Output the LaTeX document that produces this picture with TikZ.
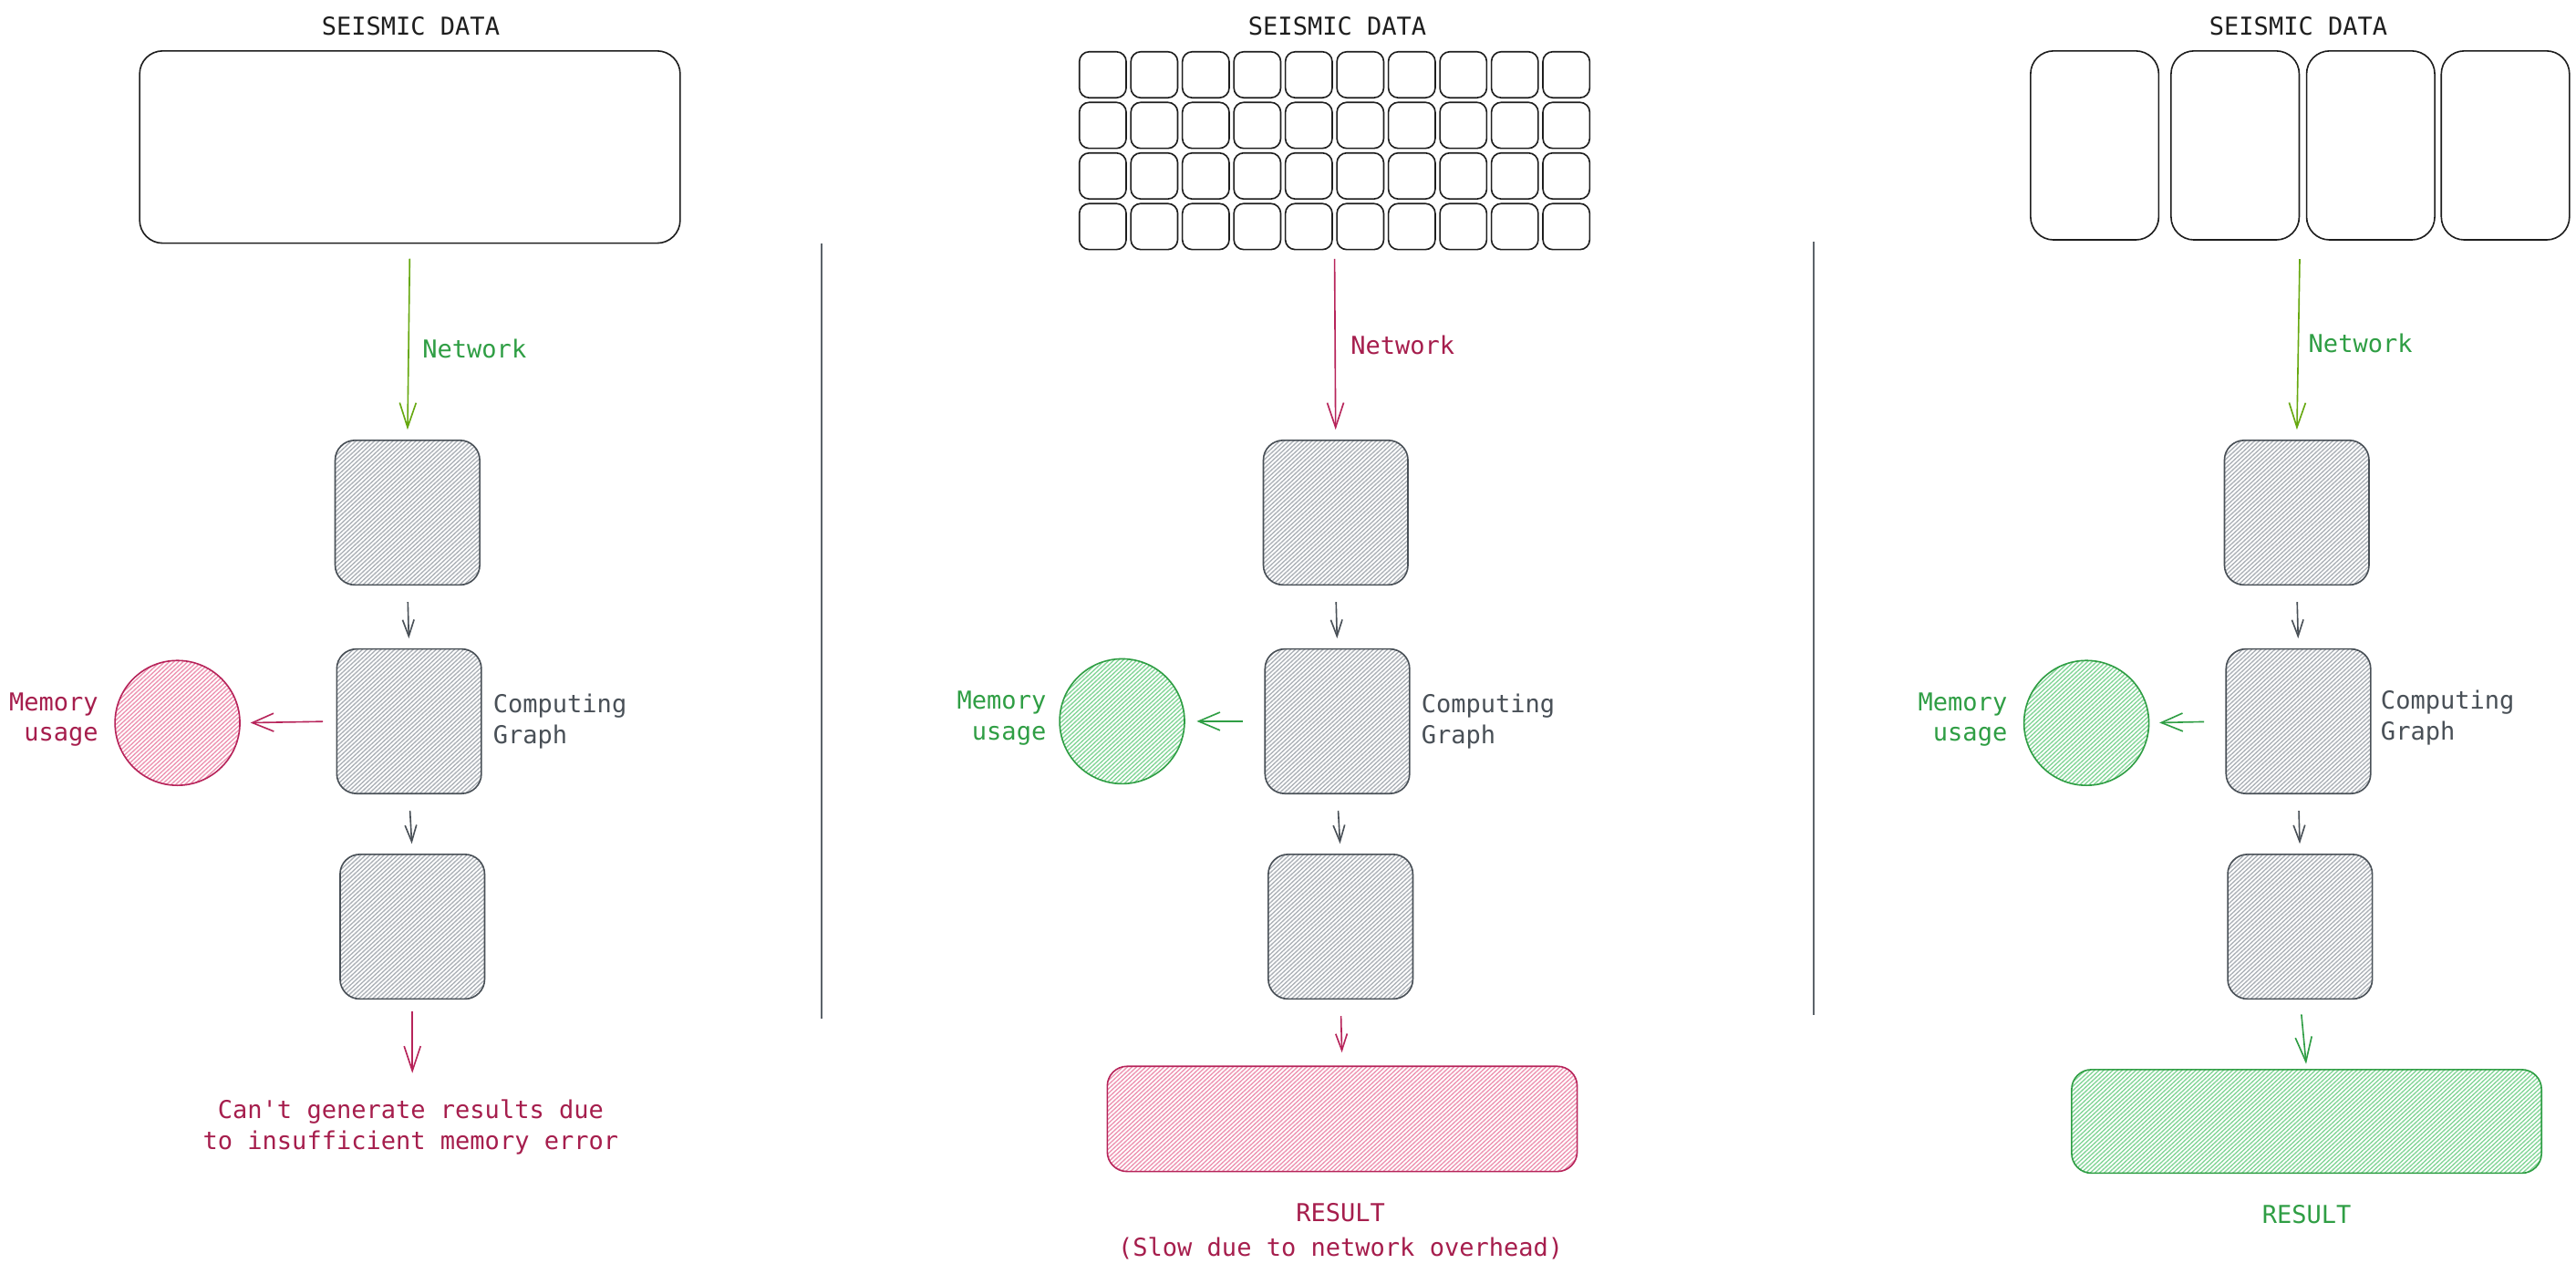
\documentclass[tikz,border=0pt]{standalone}
\usepackage{fontspec}
\setmonofont{DejaVu Sans Mono}
\usetikzlibrary{arrows.meta,fit,calc}
\definecolor{crim}{HTML}{A61E4D}
\definecolor{crimline}{HTML}{B7245A}
\definecolor{pinkh}{HTML}{EE94B2}
\definecolor{grn}{HTML}{2F9E44}
\definecolor{grnh}{HTML}{84D698}
\definecolor{olive}{HTML}{66A80F}
\definecolor{gstroke}{HTML}{495057}
\definecolor{ghatch}{HTML}{ADB2B8}
\definecolor{ink}{HTML}{1E1E1E}
\definecolor{divider}{HTML}{5C636A}
\tikzset{
  hatchfill/.style={path picture={
    \foreach \k in {-36,...,106}{
      \draw[#1, line width=0.75pt]
        ($(path picture bounding box.south west)+(\k*2.8pt,0pt)$) -- ++(43:150pt);
    }}},
  databox/.style={draw=ink, line width=0.9pt, rounded corners=#1, inner sep=0pt},
  graybox/.style={draw=gstroke, line width=0.9pt, rounded corners=12pt,
    minimum width=88pt, minimum height=88pt, inner sep=0pt, hatchfill=ghatch},
  memred/.style={circle, draw=crimline, line width=0.9pt, minimum size=76pt,
    inner sep=0pt, hatchfill=pinkh},
  memgreen/.style={circle, draw=grn, line width=0.9pt, minimum size=76pt,
    inner sep=0pt, hatchfill=grnh},
  resred/.style={draw=crimline, line width=0.9pt, rounded corners=12pt,
    minimum width=286pt, minimum height=64pt, inner sep=0pt, hatchfill=pinkh},
  resgreen/.style={draw=grn, line width=0.9pt, rounded corners=12pt,
    minimum width=286pt, minimum height=63pt, inner sep=0pt, hatchfill=grnh},
  txt/.style={inner sep=0pt, font=\ttfamily\fontsize{15}{18.75}\selectfont},
  bigarrow/.style={draw=#1, line width=0.9pt,
    -{Straight Barb[length=15pt,width=10pt,line width=0.9pt]}},
  smallarrow/.style={draw=#1, line width=0.9pt,
    -{Straight Barb[length=10pt,width=7pt,line width=0.9pt]}},
  memarrow/.style={draw=#1, line width=0.9pt,
    -{Straight Barb[length=13pt,width=11pt,line width=0.9pt]}},
}
\begin{document}
\begin{tikzpicture}[x=1pt,y=1pt]
\useasboundingbox (0,0) rectangle (1568,-775);
\fill[white] (0,0) rectangle (1568,-775);

% ---------------- dividers
\draw[divider, line width=0.9pt] (500,-148) -- (500,-620);
\draw[divider, line width=0.9pt] (1104,-147) -- (1104,-618);

% ================= Panel 1
\node[txt, text=ink] (t1) at (250,-16) {SEISMIC DATA};
\node[databox=14pt, minimum width=329pt, minimum height=117pt] (d1) at (249.5,-89.5) {};
\node[graybox] (a1) at (248,-312) {};
\node[graybox] (b1) at (249,-439) {};
\node[graybox] (c1) at (251,-564) {};
\node[memred] (m1) at (108,-440) {};
\node[txt, text=grn, anchor=west] (n1) at (257,-212) {Network};
\node[txt, text=gstroke, anchor=west, align=left] (g1) at (300,-439) {Computing\\Graph};
\node[txt, text=crim, anchor=east, align=right] (u1) at (60,-438) {Memory\\usage};
\node[txt, text=crim, align=center] (e1) at (250,-686) {Can't generate results due\\to insufficient memory error};

\draw[bigarrow=olive, shorten <=9pt, shorten >=6pt] (d1.south) -- (a1.north);
\draw[smallarrow=gstroke, shorten <=10pt, shorten >=6pt] (a1.south) -- (b1.north);
\draw[memarrow=crimline, shorten <=8pt, shorten >=6pt] (b1.west) -- (m1.east);
\draw[smallarrow=gstroke, shorten <=10pt, shorten >=6pt] (b1.south) -- (c1.north);
\draw[bigarrow=crimline, shorten <=7pt, shorten >=16pt] (c1.south) -- (e1.north -| c1.south);

% ================= Panel 2
\node[txt, text=ink] (t2) at (814,-16) {SEISMIC DATA};
\foreach \i in {0,...,9}{
  \foreach \j in {0,...,3}{
    \node[databox=6pt, minimum width=28.5pt, minimum height=28pt]
      (g2-\i-\j) at ({657+31.35*\i+14.25},{-(31.5+30.8*\j+14)}) {};
  }
}
\node[fit=(g2-0-0)(g2-9-3), inner sep=0pt] (d2) {};
\node[graybox] (a2) at (813,-312) {};
\node[graybox] (b2) at (814,-439) {};
\node[graybox] (c2) at (816,-564) {};
\node[memgreen] (m2) at (683,-439) {};
\node[resred] (r2) at (817,-681) {};
\node[txt, text=crim, anchor=west] (n2) at (822,-210) {Network};
\node[txt, text=gstroke, anchor=west, align=left] (gr2) at (865,-439) {Computing\\Graph};
\node[txt, text=grn, anchor=east, align=right] (u2) at (637,-437) {Memory\\usage};
\node[txt, text=crim] (rt2) at (816,-738) {RESULT};
\node[txt, text=crim] (sl2) at (816,-760) {(Slow due to network overhead)};

\draw[bigarrow=crimline, shorten <=5pt, shorten >=6pt] (d2.south) -- (a2.north);
\draw[smallarrow=gstroke, shorten <=10pt, shorten >=6pt] (a2.south) -- (b2.north);
\draw[memarrow=grn, shorten <=13pt, shorten >=7pt] (b2.west) -- (m2.east);
\draw[smallarrow=gstroke, shorten <=10pt, shorten >=6pt] (b2.south) -- (c2.north);
\draw[smallarrow=crimline, shorten <=10pt, shorten >=8pt] (c2.south) -- (r2.north);

% ================= Panel 3
\node[txt, text=ink] (t3) at (1399,-16) {SEISMIC DATA};
\node[databox=14pt, minimum width=78pt, minimum height=115pt] (p3a) at (1275,-88.5) {};
\node[databox=14pt, minimum width=78pt, minimum height=115pt] (p3b) at (1360.5,-88.5) {};
\node[databox=14pt, minimum width=78pt, minimum height=115pt] (p3c) at (1443,-88.5) {};
\node[databox=14pt, minimum width=78pt, minimum height=115pt] (p3d) at (1525,-88.5) {};
\node[fit=(p3a)(p3d), inner sep=0pt] (d3) {};
\node[graybox] (a3) at (1398,-312) {};
\node[graybox] (b3) at (1399,-439) {};
\node[graybox] (c3) at (1400,-564) {};
\node[memgreen] (m3) at (1270,-440) {};
\node[resgreen] (r3) at (1404,-682.5) {};
\node[txt, text=grn, anchor=west] (n3) at (1405,-209) {Network};
\node[txt, text=gstroke, anchor=west, align=left] (gr3) at (1449,-437) {Computing\\Graph};
\node[txt, text=grn, anchor=east, align=right] (u3) at (1222,-438) {Memory\\usage};
\node[txt, text=grn] (rt3) at (1404,-739) {RESULT};

\draw[bigarrow=olive, shorten <=11pt, shorten >=6pt] (d3.south) -- (a3.north);
\draw[smallarrow=gstroke, shorten <=10pt, shorten >=6pt] (a3.south) -- (b3.north);
\draw[memarrow=grn, shorten <=13pt, shorten >=6pt] (b3.west) -- (m3.east);
\draw[smallarrow=gstroke, shorten <=10pt, shorten >=6pt] (b3.south) -- (c3.north);
\draw[bigarrow=grn, shorten <=9pt, shorten >=3pt] (c3.south) -- (r3.north);
\end{tikzpicture}
\end{document}
